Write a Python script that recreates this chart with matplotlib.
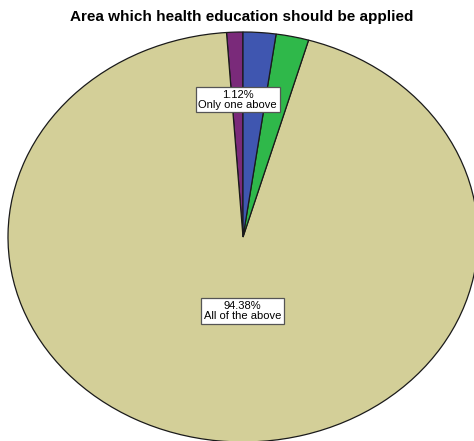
import numpy as np
import matplotlib
matplotlib.use("Agg")
import matplotlib.pyplot as plt

# Responses: share of respondents per area (drawn counter-clockwise from 12 o'clock)
categories = ["Only one above", "All of the above", "Option C", "Option B"]
percents = [1.12, 94.38, 2.25, 2.25]
colors = ["#7a2a7a", "#d3cf98", "#2fb84a", "#3f56b0"]
show_label = [True, True, False, False]

plt.rcParams["font.family"] = ["Liberation Sans", "DejaVu Sans"]

W, H = 474, 441
fig = plt.figure(figsize=(W / 100, H / 100), dpi=100)
fig.patch.set_facecolor("white")

# Elliptical pie area (stretched horizontally), partially clipped at edges
cx, cy, rx, ry = 243, 237, 235, 205
ax = fig.add_axes([(cx - rx) / W, (H - (cy + ry)) / H, 2 * rx / W, 2 * ry / H])
ax.set_axis_off()

wedges, _ = ax.pie(percents, colors=colors, startangle=90, counterclock=True,
                   wedgeprops=dict(edgecolor="#1a1a1a", linewidth=0.9),
                   radius=1.0)
ax.set_aspect("auto")
ax.set_xlim(-1, 1)
ax.set_ylim(-1, 1)
for w in wedges:
    w.set_clip_on(False)

# Label anchor positions (axes data units) for the labelled wedges
label_pos = {"Only one above": (-0.023, 0.67), "All of the above": (-0.003, -0.36)}
for cat, pct, show in zip(categories, percents, show_label):
    if not show:
        continue
    x, y = label_pos[cat]
    ax.text(x, y, f"{pct:.2f}%\n{cat}",
            ha="center", va="center", fontsize=8, linespacing=1.0,
            bbox=dict(boxstyle="square,pad=0.25", facecolor="white",
                      edgecolor="#555555", linewidth=0.9))

fig.text(242 / W, 1 - 17 / H, "Area which health education should be applied",
         ha="center", va="center", fontsize=11, fontweight="bold")

fig.savefig("out.png", dpi=100)
